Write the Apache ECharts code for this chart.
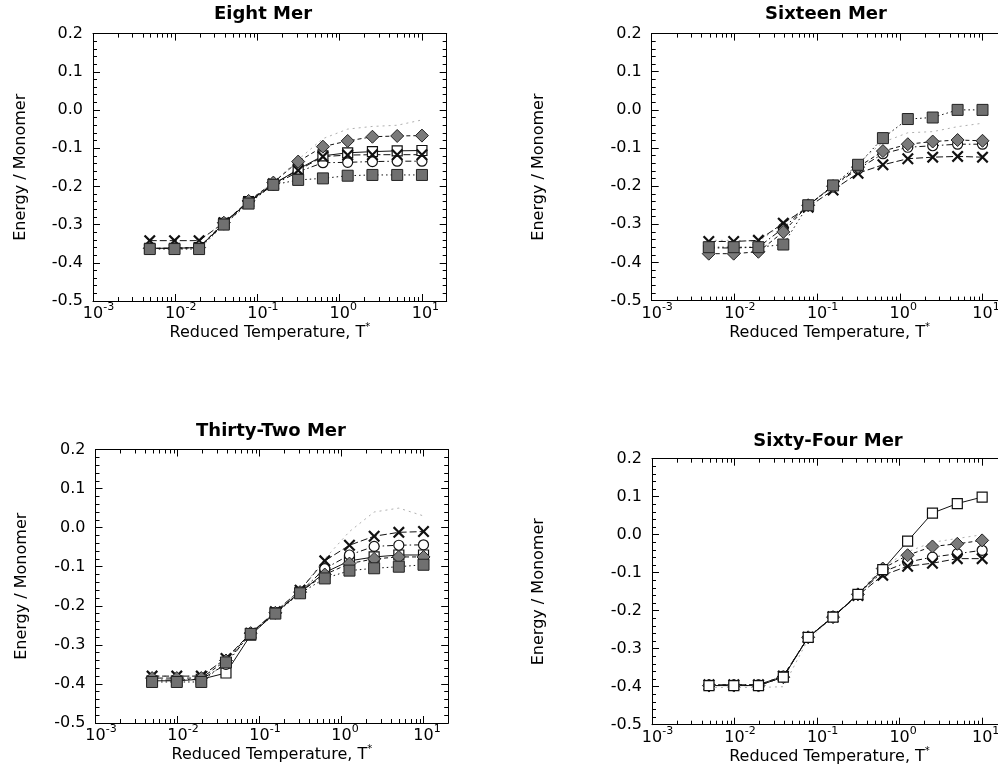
<!DOCTYPE html>
<html><head><meta charset="utf-8">
<script src="https://cdn.jsdelivr.net/npm/echarts@6/dist/echarts.min.js"></script>
<style>html,body{margin:0;padding:0;background:#fff}#c{width:998px;height:778px}</style>
</head><body><div id="c"></div>
<script>
// ---------- data ----------
const T = [0.0049, 0.0098, 0.0195, 0.039, 0.078, 0.156, 0.3125, 0.625, 1.25, 2.5, 5, 10];
const xMinorTicks = [0.002,0.003,0.004,0.005,0.006,0.007,0.008,0.009,
  0.02,0.03,0.04,0.05,0.06,0.07,0.08,0.09,
  0.2,0.3,0.4,0.5,0.6,0.7,0.8,0.9,
  2,3,4,5,6,7,8,9];
const yTickValues = [-0.5,-0.4,-0.3,-0.2,-0.1,0.0,0.1,0.2];

// Eight Mer
const eightFaint   = [-0.362,-0.362,-0.360,-0.295,-0.238,-0.190,-0.130,-0.075,-0.050,-0.043,-0.040,-0.026];
const eightCross   = [-0.342,-0.342,-0.342,-0.295,-0.240,-0.193,-0.158,-0.122,-0.118,-0.117,-0.117,-0.117];
const eightSquare  = [-0.362,-0.362,-0.360,-0.297,-0.240,-0.195,-0.155,-0.120,-0.112,-0.109,-0.107,-0.106];
const eightCircle  = [-0.362,-0.362,-0.360,-0.300,-0.242,-0.196,-0.162,-0.138,-0.137,-0.135,-0.134,-0.134];
const eightDiamond = [-0.362,-0.362,-0.360,-0.295,-0.238,-0.190,-0.135,-0.096,-0.081,-0.070,-0.068,-0.067];
const eightGSquare = [-0.364,-0.364,-0.364,-0.300,-0.245,-0.196,-0.183,-0.179,-0.172,-0.170,-0.170,-0.170];

// Sixteen Mer
const sixteenFaint   = [-0.342,-0.342,-0.345,-0.300,-0.250,-0.200,-0.140,-0.085,-0.060,-0.057,-0.044,-0.035];
const sixteenCross   = [-0.345,-0.345,-0.342,-0.297,-0.255,-0.210,-0.166,-0.144,-0.128,-0.124,-0.122,-0.124];
const sixteenCircle  = [-0.362,-0.362,-0.360,-0.310,-0.250,-0.200,-0.155,-0.115,-0.098,-0.094,-0.090,-0.090];
const sixteenDiamond = [-0.377,-0.377,-0.372,-0.320,-0.250,-0.200,-0.150,-0.108,-0.090,-0.083,-0.079,-0.081];
const sixteenGSquare = [-0.360,-0.360,-0.360,-0.353,-0.250,-0.198,-0.144,-0.074,-0.024,-0.020,0.000,0.000];

// Thirty-Two Mer
const thirtyFaint   = [-0.380,-0.380,-0.380,-0.335,-0.270,-0.215,-0.160,-0.080,-0.010,0.040,0.050,0.030];
const thirtyCross   = [-0.380,-0.380,-0.380,-0.335,-0.270,-0.215,-0.160,-0.085,-0.045,-0.022,-0.012,-0.010];
const thirtyCircle  = [-0.390,-0.390,-0.388,-0.350,-0.270,-0.218,-0.165,-0.105,-0.070,-0.048,-0.045,-0.044];
const thirtySquare  = [-0.392,-0.392,-0.388,-0.372,-0.275,-0.218,-0.166,-0.115,-0.085,-0.075,-0.070,-0.070];
const thirtyDiamond = [-0.385,-0.385,-0.385,-0.340,-0.270,-0.218,-0.165,-0.120,-0.092,-0.080,-0.075,-0.075];
const thirtyGSquare = [-0.395,-0.395,-0.395,-0.345,-0.272,-0.220,-0.168,-0.130,-0.110,-0.104,-0.100,-0.095];

// Sixty-Four Mer
const sixtyFaint   = [-0.402,-0.402,-0.402,-0.400,-0.275,-0.217,-0.155,-0.085,-0.045,-0.020,-0.010,0.000];
const sixtyCross   = [-0.395,-0.395,-0.395,-0.372,-0.270,-0.216,-0.160,-0.107,-0.083,-0.075,-0.063,-0.063];
const sixtyCircle  = [-0.395,-0.395,-0.395,-0.372,-0.270,-0.215,-0.157,-0.098,-0.072,-0.059,-0.050,-0.041];
const sixtyDiamond = [-0.397,-0.397,-0.397,-0.375,-0.270,-0.217,-0.157,-0.089,-0.054,-0.031,-0.024,-0.015];
const sixtySquare  = [-0.397,-0.397,-0.397,-0.375,-0.270,-0.217,-0.157,-0.092,-0.017,0.057,0.082,0.099];

// ---------- styles / layout ----------
const FONT = 'DejaVu Sans';
const SYM_X = 'path://M0,1.3L1.3,0L5,3.7L8.7,0L10,1.3L6.3,5L10,8.7L8.7,10L5,6.3L1.3,10L0,8.7L3.7,5Z';
const STYLES = {
  faint:   {symbol:'none', color:'#b0b0b0', lineType:[2,4], width:1},
  cross:   {symbol:SYM_X, size:12, item:{color:'#111', borderWidth:0}, lineType:[7,3]},
  square:  {symbol:'rect', size:10, item:{color:'#fff', borderColor:'#111', borderWidth:1.2}, lineType:'solid'},
  circle:  {symbol:'circle', size:10, item:{color:'#fff', borderColor:'#111', borderWidth:1.2}, lineType:[6,3,1.5,3]},
  diamond: {symbol:'diamond', size:13, item:{color:'#7a7a7a', borderColor:'#222', borderWidth:1}, lineType:[4,3]},
  gsquare: {symbol:'rect', size:11, item:{color:'#707070', borderColor:'#222', borderWidth:1}, lineType:[1.5,3]}
};
const panels = [
  {title:'Eight Mer', grid:{left:93, top:33.6, width:353.7, height:267.4}, tx:263, ty:5, yGap:64,
   series:[['faint',eightFaint],['circle',eightCircle],['square',eightSquare],['cross',eightCross],['diamond',eightDiamond],['gsquare',eightGSquare]]},
  {title:'Sixteen Mer', grid:{left:651.7, top:33.6, width:355.7, height:267}, tx:826, ty:5, yGap:105,
   series:[['faint',sixteenFaint],['circle',sixteenCircle],['cross',sixteenCross],['diamond',sixteenDiamond],['gsquare',sixteenGSquare]]},
  {title:'Thirty-Two Mer', grid:{left:95.5, top:449.5, width:352.7, height:273.5}, tx:271, ty:422, yGap:66,
   series:[['faint',thirtyFaint],['square',thirtySquare],['circle',thirtyCircle],['cross',thirtyCross],['diamond',thirtyDiamond],['gsquare',thirtyGSquare]]},
  {title:'Sixty-Four Mer', grid:{left:652, top:458.7, width:355, height:266}, tx:828, ty:432, yGap:105,
   series:[['faint',sixtyFaint],['circle',sixtyCircle],['cross',sixtyCross],['diamond',sixtyDiamond],['square',sixtySquare]]}
];
const Y_MIN = -0.5, Y_MAX = 0.2;

function xAxis(gi, pos) {
  const bottom = pos === 'bottom';
  return {
    type:'log', logBase:10, gridIndex:gi, position:pos, min:0.001, max:20,
    splitLine:{show:false},
    axisLine:{show:true, onZero:false, lineStyle:{color:'#000', width:1}},
    axisTick:{show:true, inside:true, length:7, lineStyle:{color:'#000', width:1}},
    axisLabel: bottom ? {
      show:true, margin:1, color:'#000', fontFamily:FONT,
      formatter: function(v){
        const e = Math.log10(v), r = Math.round(e);
        if (Math.abs(e - r) > 1e-6) return '';
        return '{h|' + r + '}{b|10}{s|' + r + '}';
      },
      rich:{
        b:{fontSize:16, lineHeight:24, fontFamily:FONT, color:'#000'},
        s:{fontSize:11, lineHeight:11, verticalAlign:'top', fontFamily:FONT, color:'#000'},
        h:{fontSize:11, lineHeight:11, verticalAlign:'top', fontFamily:FONT, color:'transparent'}
      }
    } : {show:false},
    name: bottom ? '{n|Reduced Temperature, T}{s|*}' : '',
    nameLocation:'middle', nameGap:12,
    nameTextStyle:{rich:{
      n:{fontSize:16, lineHeight:20, fontFamily:FONT, color:'#000'},
      s:{fontSize:10, lineHeight:10, verticalAlign:'top', fontFamily:FONT, color:'#000'}
    }}
  };
}
function yAxis(gi, pos, gap) {
  const left = pos === 'left';
  return {
    type:'value', gridIndex:gi, position:pos, min:Y_MIN, max:Y_MAX, interval:0.1,
    splitLine:{show:false},
    axisLine:{show:true, onZero:false, lineStyle:{color:'#000', width:1}},
    axisTick:{show:true, inside:true, length:7, lineStyle:{color:'#000', width:1}},
    minorTick:{show:true, splitNumber:5, length:4, lineStyle:{color:'#000', width:1}},
    axisLabel: left ? {show:true, margin:10, fontSize:16, color:'#000', fontFamily:FONT,
      formatter: v => (Math.abs(v) < 1e-9 ? '0.0' : v.toFixed(1))} : {show:false},
    name: left ? 'Energy / Monomer' : '',
    nameLocation:'middle', nameGap:gap,
    nameTextStyle:{fontSize:16, color:'#000', fontFamily:FONT}
  };
}

const option = {
  backgroundColor:'#fff', animation:false,
  title: panels.map(p => ({text:p.title, left:p.tx, top:p.ty, textAlign:'center', padding:0,
    textStyle:{fontSize:18, fontWeight:'bold', fontFamily:FONT, color:'#000'}})),
  grid: panels.map(p => Object.assign({containLabel:false, outerBoundsMode:'none'}, p.grid)),
  xAxis: [], yAxis: [], series: []
};
panels.forEach((p, gi) => {
  option.xAxis.push(xAxis(gi, 'bottom'), xAxis(gi, 'top'));
  option.yAxis.push(yAxis(gi, 'left', p.yGap), yAxis(gi, 'right', p.yGap));
  // log minor ticks (bottom and top edges)
  option.series.push({
    type:'custom', xAxisIndex:gi*2, yAxisIndex:gi*2, silent:true, clip:false, z:5,
    data: xMinorTicks.map(v => [v, Y_MIN]),
    renderItem: function(params, api){
      const v = api.value(0);
      const b = api.coord([v, Y_MIN]), t = api.coord([v, Y_MAX]);
      const x = Math.round(b[0]) + 0.5;
      return {type:'group', children:[
        {type:'line', shape:{x1:x, y1:b[1], x2:x, y2:b[1]-4}, style:{stroke:'#000', lineWidth:1}},
        {type:'line', shape:{x1:x, y1:t[1], x2:x, y2:t[1]+4}, style:{stroke:'#000', lineWidth:1}}
      ]};
    }
  });
  p.series.forEach(([kind, vals]) => {
    const st = STYLES[kind];
    option.series.push({
      type:'line', xAxisIndex:gi*2, yAxisIndex:gi*2, silent:true,
      data: T.map((t, i) => [t, vals[i]]),
      symbol: st.symbol, symbolSize: st.size || 0, showSymbol: st.symbol !== 'none',
      lineStyle:{color: st.color || '#111', width: st.width || 1, type: st.lineType},
      itemStyle: st.item || {color: st.color},
      z: 3
    });
  });
});

const chart = echarts.init(document.getElementById('c'), null, {renderer:'canvas'});
chart.setOption(option);
</script></body></html>
